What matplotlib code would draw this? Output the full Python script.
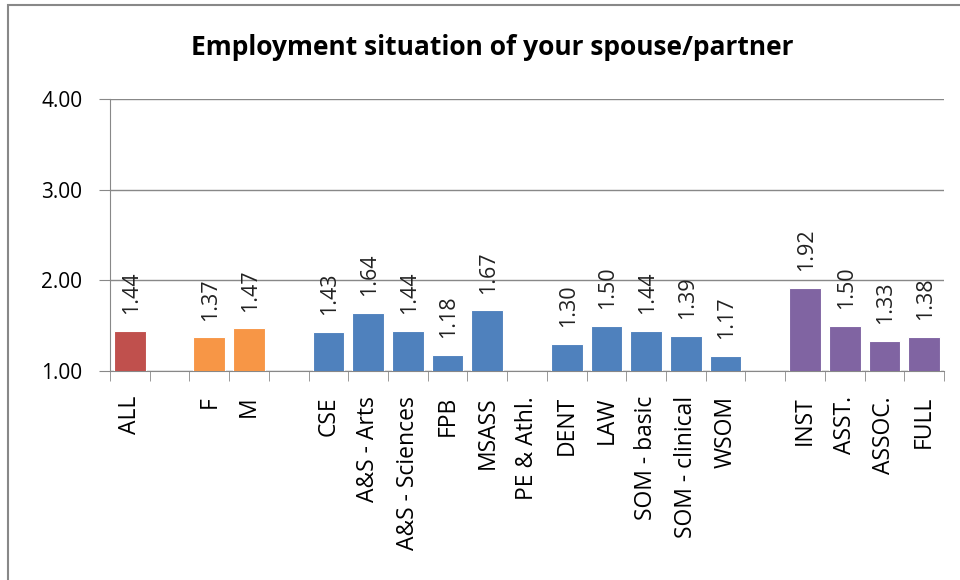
import numpy as np
import matplotlib.pyplot as plt
from matplotlib.patches import Rectangle

plt.rcParams['font.family'] = ['Open Sans', 'DejaVu Sans']

# Category slots, blanks separate the groups
labels = ['ALL', '', 'F', 'M', '', 'CSE', 'A&S - Arts', 'A&S - Sciences', 'FPB',
          'MSASS', 'PE & Athl.', 'DENT', 'LAW', 'SOM - basic', 'SOM - clinical',
          'WSOM', '', 'INST', 'ASST.', 'ASSOC.', 'FULL']
values = [1.44, np.nan, 1.37, 1.47, np.nan, 1.43, 1.64, 1.44, 1.18,
          1.67, np.nan, 1.30, 1.50, 1.44, 1.39,
          1.17, np.nan, 1.92, 1.50, 1.33, 1.38]
groups = ['all', None, 'gender', 'gender', None] + ['school'] * 11 + [None] + ['rank'] * 4
group_colors = {'all': '#C0504D', 'gender': '#F79646', 'school': '#4F81BD',
                'rank': '#8064A2', None: 'none'}

fig = plt.figure(figsize=(9.6, 5.8), dpi=100)
ax = fig.add_axes([110 / 960, 1 - 371 / 580, 834 / 960, 272 / 580])

x = np.arange(len(labels))
colors = [group_colors[g] for g in groups]
ax.bar(x, values, width=0.8, color=colors, edgecolor='white', linewidth=0.8, zorder=3)

for xi, v in zip(x, values):
    if np.isnan(v):
        continue
    ax.annotate(f'{v:.2f}', (xi, v), xytext=(1, 12), textcoords='offset points',
                rotation=90, ha='center', va='bottom', fontsize=15.5, color='#222222')

ax.set_xlim(-0.5, len(labels) - 0.5)
ax.set_ylim(1, 4)
ax.set_yticks([1, 2, 3, 4])
ax.set_yticklabels([f'{t:.2f}' for t in [1, 2, 3, 4]], fontsize=15)
ax.yaxis.grid(True, color='#888888', linewidth=1, zorder=0)

ax.set_xticks(x)
ax.set_xticklabels(labels, rotation=90, fontsize=16.5, va='top')
ax.set_xticks(np.arange(len(labels) + 1) - 0.5, minor=True)
ax.tick_params(axis='x', which='major', length=0, pad=18)
ax.tick_params(axis='x', which='minor', length=7, color='#888888', direction='out')
ax.tick_params(axis='y', length=8, color='#888888', pad=12)

for side in ['top', 'right']:
    ax.spines[side].set_visible(False)
for side in ['left', 'bottom']:
    ax.spines[side].set_color('#888888')

fig.text(0.513, 0.918, 'Employment situation of your spouse/partner', ha='center',
         va='center', fontsize=19, fontweight='bold')

# chart area border
fig.patches.append(Rectangle((8 / 960, -0.1), 1.2, 1 - 5 / 580 + 0.1,
                             transform=fig.transFigure, fill=False,
                             edgecolor='#888888', linewidth=1.5))

fig.savefig('out.png', dpi=100)
